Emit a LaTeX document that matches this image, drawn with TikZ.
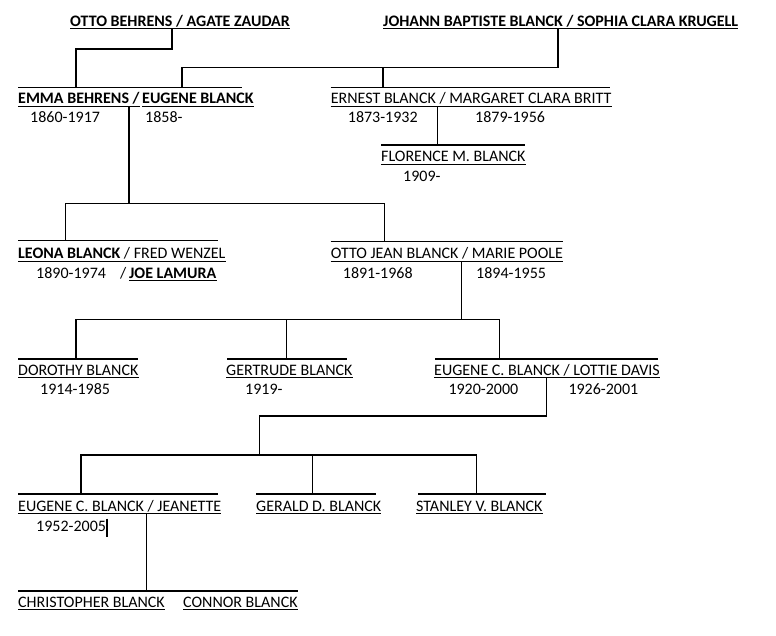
\documentclass[tikz,border=0pt]{standalone}
\usepackage{fontspec}
\setmainfont{Carlito}
\begin{document}
\begin{tikzpicture}[x=1pt,y=-1pt,
  nm/.style={inner sep=0pt, anchor=base west, text height=11pt, text depth=2.2pt, font=\fontsize{16}{19}\selectfont},
  bnm/.style={nm, font=\fontsize{16}{19}\selectfont\bfseries},
  ln/.style={line width=1.1pt, black},
  ul/.style={line width=1.1pt, black}]
\useasboundingbox (0,0) rectangle (776,636);
\fill[white] (0,0) rectangle (776,636);
% generation 1
\node[bnm] (otto) at (70,26.5) {OTTO BEHRENS / AGATE ZAUDAR};
\node[bnm] (johann) at (383,26.5) {JOHANN BAPTISTE BLANCK / SOPHIA CLARA KRUGELL};
% generation 2
\node[bnm] (emma) at (18,104) {EMMA BEHRENS /};
\node[bnm] (eugene) at (142,104) {EUGENE BLANCK};
\node[nm] (emmad) at (30,123) {1860-1917};
\node[nm] (eugened) at (145,123) {1858-};
\node[nm] (ernest) at (330.7,104) {ERNEST BLANCK / MARGARET CLARA BRITT};
\node[nm] (ernestd) at (347.7,123) {1873-1932};
\node[nm] (margd) at (475,123) {1879-1956};
\node[nm] (florence) at (381,162) {FLORENCE M. BLANCK};
\node[nm] (florenced) at (403,181.5) {1909-};
% generation 3
\node[nm] (leona) at (18,258.8) {\textbf{LEONA BLANCK} / FRED WENZEL};
\node[nm] (leonad) at (36,278.5) {1890-1974};
\node[nm] (slash) at (120,278.5) {/};
\node[bnm] (joe) at (129,278.5) {JOE LAMURA};
\node[nm] (ottojean) at (330.7,258.8) {OTTO JEAN BLANCK / MARIE POOLE};
\node[nm] (ottojeand) at (342.7,278.5) {1891-1968};
\node[nm] (maried) at (476,278.5) {1894-1955};
% generation 4
\node[nm] (dorothy) at (18,375.5) {DOROTHY BLANCK};
\node[nm] (dorothyd) at (40,394.8) {1914-1985};
\node[nm] (gertrude) at (226,375.5) {GERTRUDE BLANCK};
\node[nm] (gertruded) at (245,394.8) {1919-};
\node[nm] (eugenec) at (434,375.5) {EUGENE C. BLANCK / LOTTIE DAVIS};
\node[nm] (eugenecd) at (448.3,394.8) {1920-2000};
\node[nm] (lottied) at (568.3,394.8) {1926-2001};
% generation 5
\node[nm] (eugenej) at (18,511.2) {EUGENE C. BLANCK / JEANETTE};
\node[nm] (eugenejd) at (36,531.5) {1952-2005};
\node[nm] (gerald) at (256,511.2) {GERALD D. BLANCK};
\node[nm] (stanley) at (416,511.2) {STANLEY V. BLANCK};
% generation 6
\node[nm] (christopher) at (18,607.2) {CHRISTOPHER BLANCK};
\node[nm] (connor) at (183,607.2) {CONNOR BLANCK};
% cursor mark
\draw[line width=2pt] (eugenejd.base east) ++(1,-13) -- ++(0,18);
% underlines
\foreach \n in {otto,johann,emma,eugene,ernest,florence,leona,joe,ottojean,dorothy,gertrude,eugenec,eugenej,gerald,stanley,christopher,connor}
  \draw[ul] (\n.south west) -- (\n.south east);
% overlines
\draw[ln] (18,87.3) -- (242,87.3);
\draw[ln] (330.7,87.3) -- (610,87.3);
\draw[ln] (381,145) -- (525,145);
\draw[ln] (18,240.7) -- (218,240.7);
\draw[ln] (330.7,241.5) -- (562.7,241.5);
\draw[ln] (18,359) -- (138,359);
\draw[ln] (227,359) -- (347,359);
\draw[ln] (435,359) -- (658.3,359);
\draw[ln] (18,494) -- (218,494);
\draw[ln] (256,494) -- (376,494);
\draw[ln] (418.3,494) -- (545.7,494);
\draw[ln] (18,591) -- (298,591);
% connectors
\coordinate (k1) at (172,49);
\draw[ln] (k1 |- otto.south) -- (k1) -| (76,87.3);
\coordinate (k2) at (558,67.7);
\draw[ln] (k2 |- johann.south) -- (k2) -| (182,87.3);
\draw[ln] (383,67.7) -- (383,87.3);
\coordinate (k3) at (129,203.3);
\draw[ln] (k3 |- emma.south) -- (k3);
\draw[ln] (65.7,240.7) |- (384.3,203.3) -- (384.3,241.5);
\coordinate (k4) at (437.3,145);
\draw[ln] (k4 |- ernest.south) -- (k4);
\coordinate (k5) at (461.7,319.3);
\draw[ln] (k5 |- ottojean.south) -- (k5);
\draw[ln] (76,359) |- (499.3,319.3) -- (499.3,359);
\draw[ln] (286.7,319.3) -- (286.7,359);
\coordinate (k6) at (546.7,416);
\draw[ln] (k6 |- eugenec.south) -- (k6) -| (259.3,455);
\draw[ln] (81,494) |- (476.7,455) -- (476.7,494);
\draw[ln] (312.3,455) -- (312.3,494);
\coordinate (k7) at (146.7,591);
\draw[ln] (k7 |- eugenej.south) -- (k7);
\end{tikzpicture}
\end{document}
